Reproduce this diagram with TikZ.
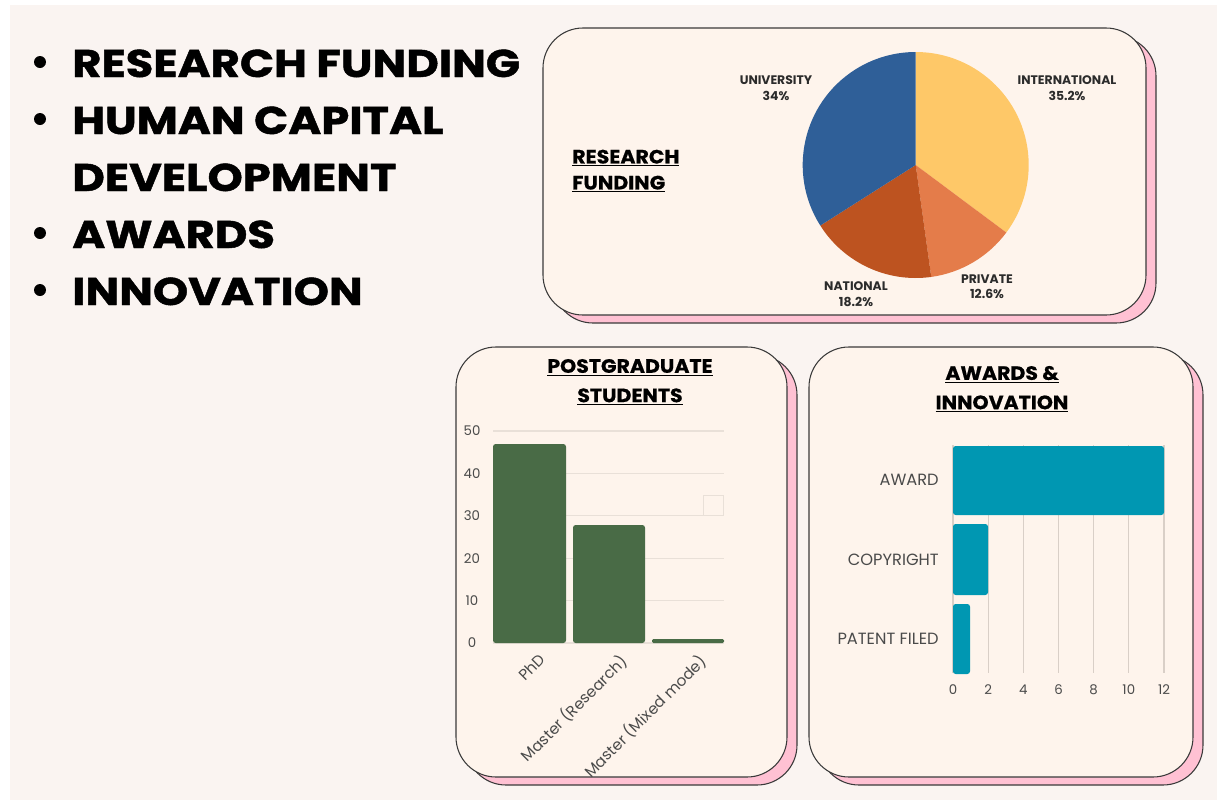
\documentclass[tikz,border=0pt]{standalone}
\usepackage{fontspec}
\setmainfont{Poppins}
\newfontfamily\heavyfont{Poppins}[FakeStretch=1.16, FakeBold=1.2]
\newfontfamily\titlefont{Poppins}[FakeStretch=1.06, FakeBold=0.6]
\usetikzlibrary{calc}

\definecolor{pagebg}{HTML}{FAF4F1}
\definecolor{cardfill}{HTML}{FEF4EC}
\definecolor{cardpink}{HTML}{FFC1D3}
\definecolor{cardline}{HTML}{3A3A3A}
\definecolor{gridc}{HTML}{E9E0D8}
\definecolor{vgridc}{HTML}{D9CFC7}
\definecolor{barGreen}{HTML}{496B46}
\definecolor{barTeal}{HTML}{0097B2}
\definecolor{pieInt}{HTML}{FEC868}
\definecolor{piePriv}{HTML}{E47C4A}
\definecolor{pieNat}{HTML}{BD5320}
\definecolor{pieUni}{HTML}{2F5F98}
\definecolor{labeltext}{HTML}{2B2B2B}
\definecolor{axistext}{HTML}{4A4A4A}

\def\cardbox(#1,#2)(#3,#4){\draw[cardshadow] (#1+10,#2+8) rectangle (#3+10,#4+8);
  \draw[card] (#1,#2) rectangle (#3,#4);}
\def\pieslice[#1](#2:#3){\fill[#1] (915.7,165) -- ++(#2:113) arc (#2:#3:113) -- cycle;}

\tikzset{
  card/.style={draw=cardline, fill=cardfill, line width=0.8pt, rounded corners=30pt},
  cardshadow/.style={draw=cardline, fill=cardpink, line width=0.8pt, rounded corners=30pt},
  bigitem/.style={anchor=base west, inner sep=0pt, font=\heavyfont\bfseries\fontsize{29}{34}\selectfont},
  cardtitle/.style={align=center, inner sep=0pt, font=\titlefont\bfseries\fontsize{14.5}{22}\selectfont},
  pielabel/.style={align=center, inner sep=0pt, text=labeltext, font=\bfseries\fontsize{9.3}{11.5}\selectfont},
  ticklabel/.style={inner sep=0pt, text=axistext, font=\fontsize{10}{11}\selectfont},
  catlabel/.style={anchor=east, inner sep=0pt, text=axistext, font=\fontsize{12.2}{13}\selectfont},
  rotlabel/.style={anchor=north east, rotate=45, inner sep=0pt, text=axistext, font=\fontsize{11.5}{12}\selectfont},
}

\begin{document}
\begin{tikzpicture}[x=0.75pt, y=-0.75pt]
  %%%%% START %%%%%
  \useasboundingbox (0,0) rectangle (1217,800);
  \fill[white] (0,0) rectangle (1217,800);
  \fill[pagebg] (10,5) rectangle (1217,800);

  % left list
  \foreach \yy in {62,119,233,290} \fill[black] (40,\yy) circle (6);
  \node[bigitem] (item1) at (72,77) {RESEARCH FUNDING};
  \node[bigitem] (item2) at (72,134) {HUMAN CAPITAL};
  \node[bigitem] (item3) at (72,191) {DEVELOPMENT};
  \node[bigitem] (item4) at (72,248) {AWARDS};
  \node[bigitem] (item5) at (72,305) {INNOVATION};

  % research funding card
  \cardbox(543,28)(1146,315)
  \node[cardtitle, align=left, anchor=west, font=\titlefont\bfseries\fontsize{14.5}{19.5}\selectfont] (fundTitle) at (572,171)
    {\underline{RESEARCH}\\\underline{FUNDING}};

  \pieslice[pieInt](-90:36.7)
  \pieslice[piePriv](36.7:82.1)
  \pieslice[pieNat](82.1:147.6)
  \pieslice[pieUni](147.6:270)

  \node[pielabel] (lblUni) at (776,88) {UNIVERSITY\\34\%};
  \node[pielabel] (lblInt) at (1067,88) {INTERNATIONAL\\35.2\%};
  \node[pielabel] (lblPriv) at (987,287) {PRIVATE\\12.6\%};
  \node[pielabel] (lblNat) at (856,294) {NATIONAL\\18.2\%};

  % postgraduate card
  \cardbox(456,347)(787,777)
  \node[cardtitle] (pgTitle) at (630,382) {\underline{POSTGRADUATE}\\\underline{STUDENTS}};

  \foreach \v in {0,10,...,50} {
    \draw[gridc, line width=0.8pt] (493,643-\v*4.24) -- (724,643-\v*4.24);
    \node[ticklabel] (ytick\v) at (472,643-\v*4.24) {\v};
  }
  \draw[gridc, line width=0.6pt] (703,495) rectangle (723,515);

  \fill[barGreen, rounded corners=2pt] (493,643) rectangle (566,444);
  \fill[barGreen, rounded corners=2pt] (573,643) rectangle (645,525);
  \fill[barGreen, rounded corners=1pt] (652,643) rectangle (724,639);

  \node[rotlabel] (xPhd) at (538,652) {PhD};
  \node[rotlabel] (xRes) at (618,652) {Master (Research)};
  \node[rotlabel] (xMix) at (697,652) {Master (Mixed mode)};

  % awards card
  \cardbox(809,347)(1193,777)
  \node[cardtitle] (awTitle) at (1002,389) {\underline{AWARDS \&}\\\underline{INNOVATION}};

  \foreach \v in {0,2,...,12} {
    \draw[vgridc, line width=0.8pt] (953+\v*17.58,445) -- (953+\v*17.58,673);
    \node[ticklabel] (xtick\v) at (953+\v*17.58,690) {\v};
  }

  \fill[barTeal, rounded corners=2pt] (953,446) rectangle (1164,515);
  \fill[barTeal, rounded corners=2pt] (953,524) rectangle (988,595);
  \fill[barTeal, rounded corners=2pt] (953,604) rectangle (970,674);

  \node[catlabel] (catAward) at (939,480) {AWARD};
  \node[catlabel] (catCopy) at (939,560) {COPYRIGHT};
  \node[catlabel] (catPat) at (939,639) {PATENT FILED};
  %%%%% END %%%%%
\end{tikzpicture}
\end{document}
